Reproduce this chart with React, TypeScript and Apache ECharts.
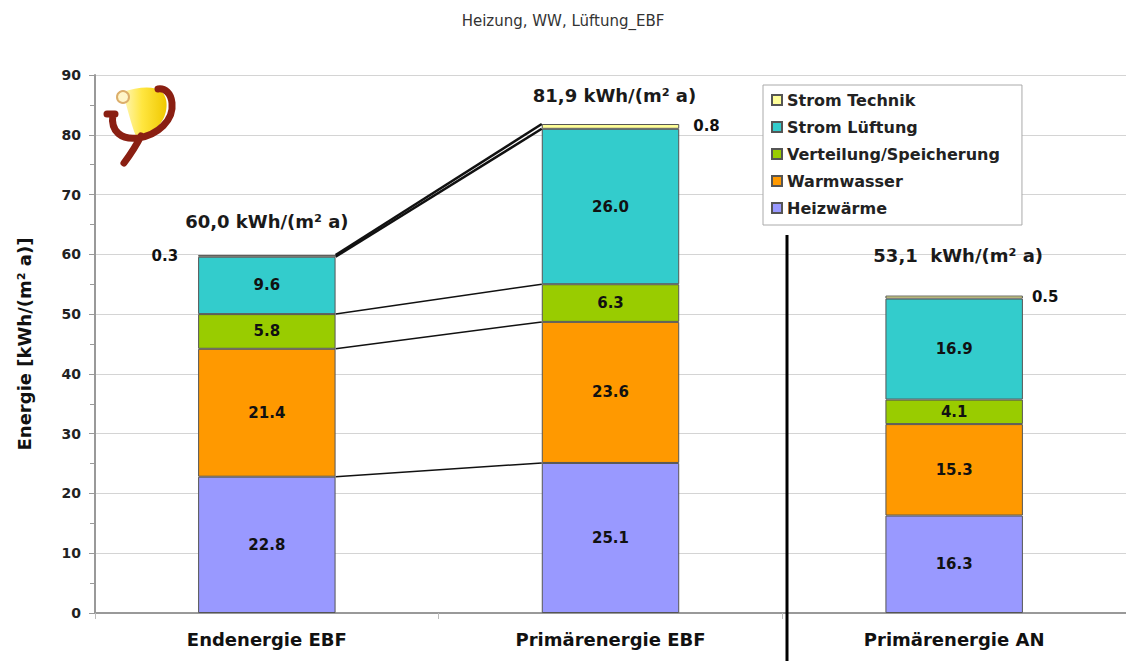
import React, { useEffect, useRef } from "react";
import * as echarts from "echarts";

const categories = ["Endenergie EBF", "Primärenergie EBF", "Primärenergie AN"];
const heizwaerme = [22.8, 25.1, 16.3];
const warmwasser = [21.4, 23.6, 15.3];
const verteilung = [5.8, 6.3, 4.1];
const stromLueftung = [9.6, 26.0, 16.9];
const stromTechnik = [0.3, 0.8, 0.5];
const totals = [60.0, 81.9, 53.1];
const totalTexts = ["60,0 kWh/(m² a)", "81,9 kWh/(m² a)", "53,1  kWh/(m² a)"];
const yTicks = { min: 0, max: 90, interval: 10 };

const seriesNames = ["Heizwärme", "Warmwasser", "Verteilung/Speicherung", "Strom Lüftung", "Strom Technik"];
const seriesData = [heizwaerme, warmwasser, verteilung, stromLueftung, stromTechnik];
const colors = ["#9999FF", "#FF9900", "#99CC00", "#33CCCC", "#FFFF99"];

const BOLD = "DejaVu Sans";

echarts.graphic.registerShape(
  "logoStroke",
  echarts.graphic.extendPath(
    "M113,114 C110,132 122,140 138,138 C158,135 174,120 172,103 C171,93 165,88 158,89 M141,136 C136,146 130,155 124,163 M107,114 L115,114",
    {}
  )
);
echarts.graphic.registerShape(
  "logoLeaf",
  echarts.graphic.extendPath(
    "M122,92 C138,87 154,85 162,92 C170,100 167,118 158,126 C150,133 142,136 136,136 C131,125 127,105 122,92 Z",
    {}
  )
);

export default function App() {
  const ref = useRef<HTMLDivElement>(null);
  useEffect(() => {
    if (!ref.current) return;
    const chart = echarts.init(ref.current, null, { renderer: "svg" });

    // cumulative sums for connector lines between bar 0 and bar 1
    const cum = [0, 1].map((b) => {
      let s = 0;
      return seriesData.map((arr) => (s = +(s + arr[b]).toFixed(2)));
    });
    const connectors = seriesData.map((_, i) => [0, cum[0][i], cum[1][i]]);

    const barSeries = seriesNames.map((name, si) => ({
      name,
      type: "bar",
      stack: "total",
      barWidth: "40%",
      itemStyle: { color: colors[si], borderColor: "#555", borderWidth: 1 },
      label: {
        show: true,
        position: "inside",
        color: "#111",
        fontFamily: BOLD,
        fontWeight: "bold",
        fontSize: 15,
        formatter: (p: any) => Number(p.value).toFixed(1),
      },
      data:
        si === 4
          ? seriesData[si].map((v, i) => ({
              value: v,
              label:
                i === 0
                  ? { position: "left", distance: 20 }
                  : { position: "right", distance: i === 1 ? 14 : 9 },
            }))
          : seriesData[si],
      z: 2,
    }));

    const option: any = {
      animation: false,
      title: {
        text: "Heizung, WW, Lüftung_EBF",
        left: "center",
        top: 8,
        textStyle: { fontFamily: "DejaVu Sans", fontWeight: "normal", fontSize: 15, color: "#333" },
      },
      grid: { left: 95, top: 75, bottom: 48, width: 1040 },
      legend: {
        orient: "vertical",
        left: 763,
        top: 85,
        data: ["Strom Technik", "Strom Lüftung", "Verteilung/Speicherung", "Warmwasser", "Heizwärme"],
        backgroundColor: "#fff",
        borderColor: "#aaa",
        borderWidth: 1,
        borderRadius: 0,
        padding: [7, 22, 9, 8],
        itemWidth: 10,
        itemHeight: 10,
        itemGap: 11,
        icon: "rect",
        textStyle: { fontFamily: BOLD, fontWeight: "bold", fontSize: 16, color: "#222" },
      },
      xAxis: {
        type: "category",
        data: categories,
        axisLine: { lineStyle: { color: "#999", width: 2 } },
        axisTick: { show: true, length: 6, lineStyle: { color: "#bbb" } },
        axisLabel: { margin: 17, fontFamily: BOLD, fontWeight: "bold", fontSize: 18, color: "#111" },
      },
      yAxis: {
        type: "value",
        min: yTicks.min,
        max: yTicks.max,
        interval: yTicks.interval,
        name: "Energie [kWh/(m² a)]",
        nameLocation: "middle",
        nameGap: 62,
        nameTextStyle: { fontFamily: BOLD, fontWeight: "bold", fontSize: 18, color: "#111" },
        axisLine: { show: true, lineStyle: { color: "#999", width: 2 } },
        axisTick: { show: true, length: 6, lineStyle: { color: "#999" } },
        minorTick: { show: true, splitNumber: 2, length: 5, lineStyle: { color: "#999" } },
        axisLabel: { margin: 14, fontFamily: BOLD, fontWeight: "bold", fontSize: 14, color: "#222" },
        splitLine: { show: true, lineStyle: { color: "#d4d4d4", width: 1 } },
      },
      series: [
        ...barSeries,
        {
          type: "custom",
          name: "connectors",
          data: connectors,
          encode: { x: 0, y: [1, 2] },
          clip: false,
          z: 5,
          silent: true,
          renderItem: (params: any, api: any) => {
            const p0 = api.coord([0, api.value(1)]);
            const p1 = api.coord([1, api.value(2)]);
            const hw = api.size([1, 0])[0] * 0.2;
            const lw = params.dataIndex >= 3 ? 2.5 : 1.5;
            return {
              type: "line",
              shape: { x1: p0[0] + hw, y1: p0[1], x2: p1[0] - hw, y2: p1[1] },
              style: { stroke: "#111", lineWidth: lw },
            };
          },
        },
        {
          type: "scatter",
          name: "totals",
          symbolSize: 0,
          silent: true,
          itemStyle: { opacity: 1 },
          data: totals.map((t, i) => ({
            value: [i, t],
            label: { offset: [[0, -33], [4, -28], [4, -40]][i] },
          })),
          label: {
            show: true,
            position: "inside",
            fontFamily: BOLD,
            fontWeight: "bold",
            fontSize: 18,
            color: "#1a1a1a",
            opacity: 1,
            formatter: (p: any) => totalTexts[p.dataIndex],
          },
          z: 6,
        },
      ],
      graphic: [
        {
          type: "line",
          shape: { x1: 787, y1: 235, x2: 787, y2: 661 },
          style: { stroke: "#000", lineWidth: 3 },
          z: 10,
        },
        {
          type: "logoLeaf",
          style: {
            fill: new echarts.graphic.LinearGradient(0, 0, 1, 0, [
              { offset: 0, color: "#fff8c0" },
              { offset: 0.45, color: "#ffe640" },
              { offset: 1, color: "#f0c800" },
            ]),
            stroke: "none",
          },
          z: 10,
        },
        {
          type: "logoStroke",
          style: { fill: "none", stroke: "#8a1f12", lineWidth: 7, lineCap: "round" },
          z: 11,
        },
        {
          type: "circle",
          shape: { cx: 123, cy: 97, r: 6 },
          style: { fill: "#fff5c8", stroke: "#dcae6a", lineWidth: 2 },
          z: 12,
        },
      ],
    };
    chart.setOption(option);
    return () => chart.dispose();
  }, []);
  return (
    <div
      ref={ref}
      style={{ position: "absolute", left: 0, top: 0, width: 1126, height: 661, background: "#fff" }}
    />
  );
}
